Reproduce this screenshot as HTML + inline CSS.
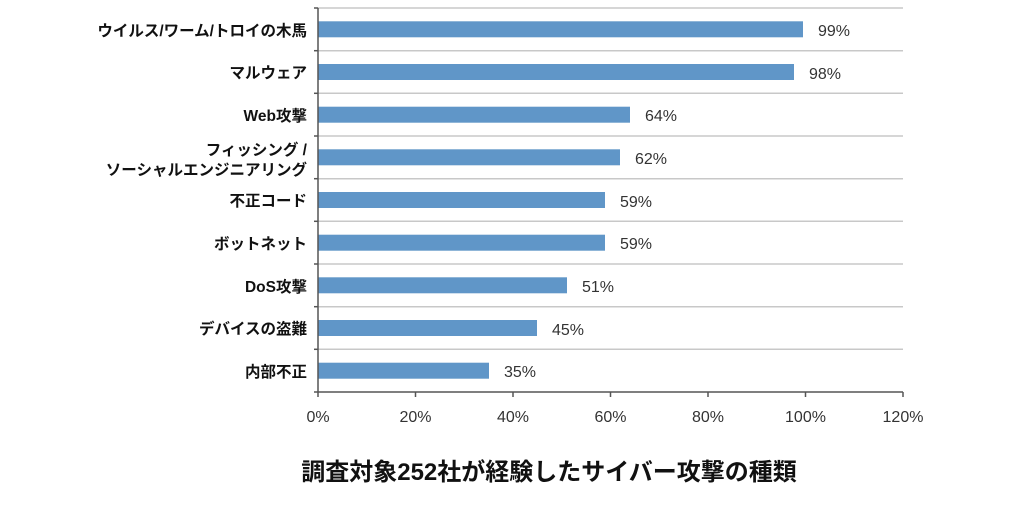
<!DOCTYPE html>
<html><head><meta charset="utf-8"><style>
body{margin:0;background:#fff;}
svg text{font-family:"Liberation Sans","Noto Sans CJK JP",sans-serif;}
</style></head><body>
<svg width="1024" height="521" xmlns="http://www.w3.org/2000/svg">
<g stroke="#c8c8c8" stroke-width="1.5">
<line x1="318" y1="8" x2="903" y2="8"/>
<line x1="318" y1="50.7" x2="903" y2="50.7"/>
<line x1="318" y1="93.3" x2="903" y2="93.3"/>
<line x1="318" y1="136" x2="903" y2="136"/>
<line x1="318" y1="178.7" x2="903" y2="178.7"/>
<line x1="318" y1="221.3" x2="903" y2="221.3"/>
<line x1="318" y1="264" x2="903" y2="264"/>
<line x1="318" y1="306.7" x2="903" y2="306.7"/>
<line x1="318" y1="349.3" x2="903" y2="349.3"/>
</g>
<g fill="#6096c8">
<rect x="318" y="21.3" width="485" height="16"/>
<rect x="318" y="64" width="476" height="16"/>
<rect x="318" y="106.7" width="312" height="16"/>
<rect x="318" y="149.3" width="302" height="16"/>
<rect x="318" y="192" width="287" height="16"/>
<rect x="318" y="234.7" width="287" height="16"/>
<rect x="318" y="277.3" width="249" height="16"/>
<rect x="318" y="320" width="219" height="16"/>
<rect x="318" y="362.7" width="171" height="16"/>
</g>
<g stroke="#555" stroke-width="1.5">
<line x1="318" y1="8" x2="318" y2="392"/>
<line x1="318" y1="392" x2="903" y2="392"/>
<line x1="314" y1="8" x2="318" y2="8"/>
<line x1="314" y1="50.7" x2="318" y2="50.7"/>
<line x1="314" y1="93.3" x2="318" y2="93.3"/>
<line x1="314" y1="136" x2="318" y2="136"/>
<line x1="314" y1="178.7" x2="318" y2="178.7"/>
<line x1="314" y1="221.3" x2="318" y2="221.3"/>
<line x1="314" y1="264" x2="318" y2="264"/>
<line x1="314" y1="306.7" x2="318" y2="306.7"/>
<line x1="314" y1="349.3" x2="318" y2="349.3"/>
<line x1="314" y1="392" x2="318" y2="392"/>
<line x1="318" y1="392" x2="318" y2="397"/>
<line x1="415.5" y1="392" x2="415.5" y2="397"/>
<line x1="513" y1="392" x2="513" y2="397"/>
<line x1="610.5" y1="392" x2="610.5" y2="397"/>
<line x1="708" y1="392" x2="708" y2="397"/>
<line x1="805.5" y1="392" x2="805.5" y2="397"/>
<line x1="903" y1="392" x2="903" y2="397"/>
</g>
<g font-size="16" fill="#333">
<text x="818" y="36">99%</text>
<text x="809" y="79">98%</text>
<text x="645" y="121">64%</text>
<text x="635" y="164">62%</text>
<text x="620" y="207">59%</text>
<text x="620" y="249">59%</text>
<text x="582" y="292">51%</text>
<text x="552" y="335">45%</text>
<text x="504" y="377">35%</text>
</g>
<g font-size="16" fill="#333" text-anchor="middle">
<text x="318" y="422">0%</text>
<text x="415.5" y="422">20%</text>
<text x="513" y="422">40%</text>
<text x="610.5" y="422">60%</text>
<text x="708" y="422">80%</text>
<text x="805.5" y="422">100%</text>
<text x="903" y="422">120%</text>
</g>
<g font-size="15.5" font-weight="bold" fill="#111" text-anchor="end">
<text x="307" y="36">ウイルス/ワーム/トロイの木馬</text>
<text x="307" y="78">マルウェア</text>
<text x="307" y="121">Web攻撃</text>
<text x="307" y="155">フィッシング /</text>
<text x="307" y="175">ソーシャルエンジニアリング</text>
<text x="307" y="206">不正コード</text>
<text x="307" y="249">ボットネット</text>
<text x="307" y="292">DoS攻撃</text>
<text x="307" y="334">デバイスの盗難</text>
<text x="307" y="377">内部不正</text>
</g>
<text x="549" y="480" font-size="24" font-weight="bold" fill="#111" text-anchor="middle">調査対象252社が経験したサイバー攻撃の種類</text>
</svg>
</body></html>
